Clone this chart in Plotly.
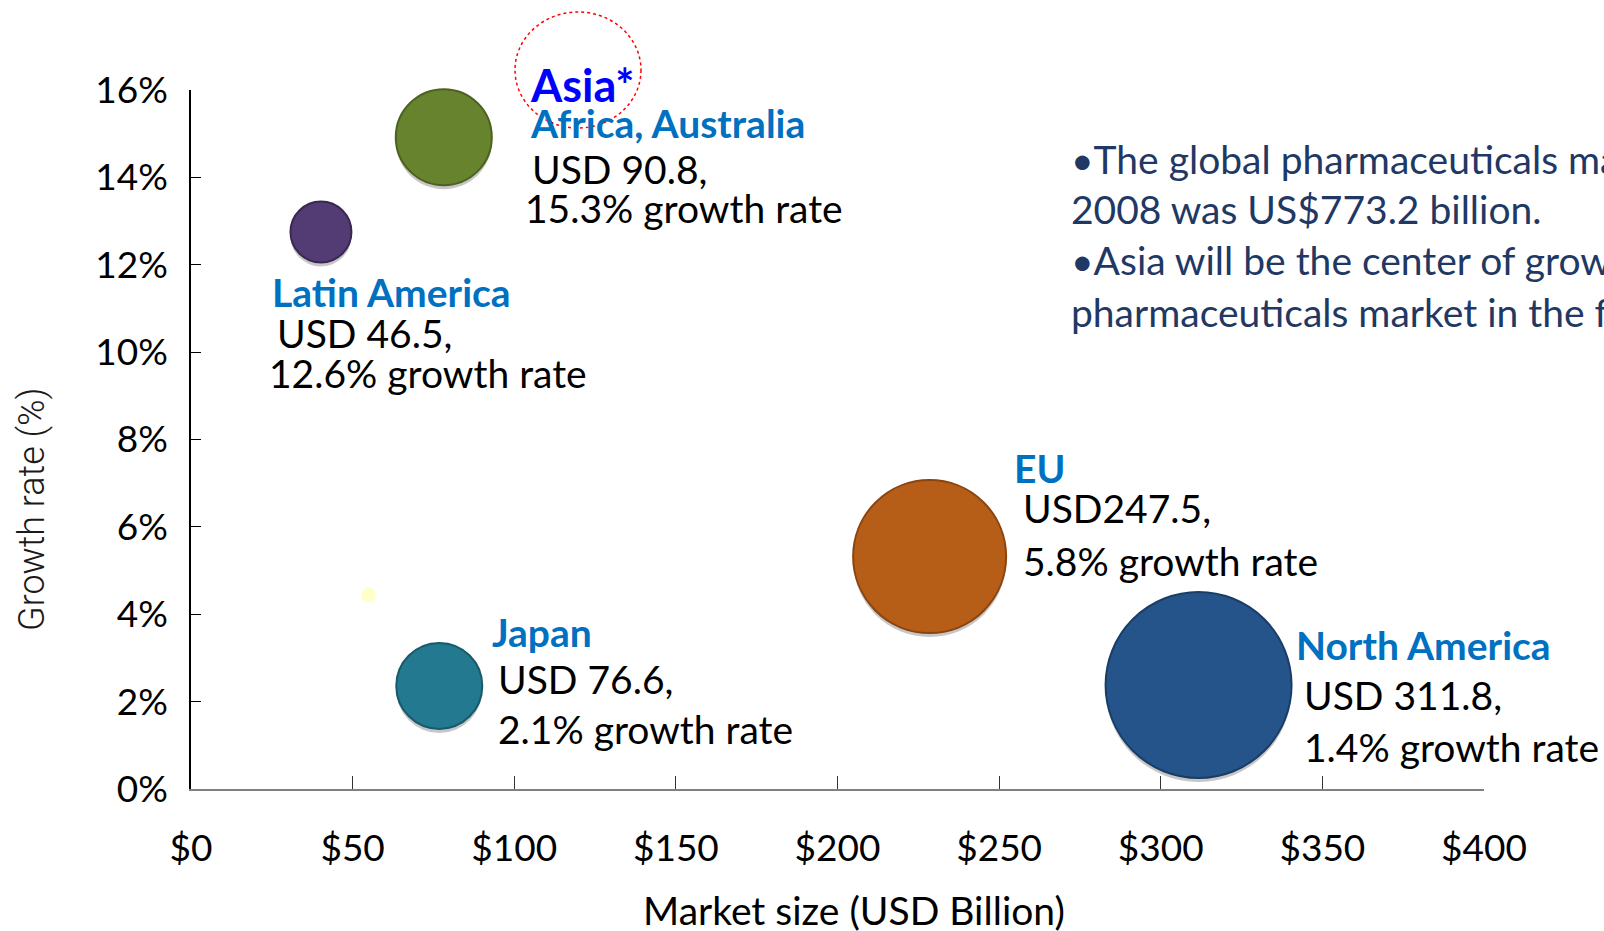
import plotly.graph_objects as go

# ---------------- data ----------------
regions = ["Latin America", "Asia, Africa, Australia", "Japan", "EU", "North America", "(unlabelled)"]
market_size = [40.2, 78.2, 76.8, 228.5, 311.7, 55.0]          # x, USD billion (bubble centre)
growth_pct = [12.75, 14.92, 2.36, 5.32, 2.38, 4.44]            # y, percent (bubble centre)
bubble_value = [33.5, 83.1, 66.7, 211.0, 311.8, 1.5]           # bubble size value (area)
bubble_colors = ["#533B74", "#67832E", "#23798F", "#B65D17", "#25548A", "#FFFFCC"]
edge_colors = ["#3A2853", "#4C6220", "#185A6B", "#8A4410", "#1A3D66", "#FFFFCC"]

label_titles = ["Latin America", "Africa, Australia", "Japan", "EU", "North America"]
value_lines = ["USD 46.5,", "USD 90.8,", "USD 76.6,", "USD247.5,", "USD 311.8,"]
rate_lines = ["12.6% growth rate", "15.3% growth rate", "2.1% growth rate",
              "5.8% growth rate", "1.4% growth rate"]

x_ticks = [0, 50, 100, 150, 200, 250, 300, 350, 400]
y_ticks = [0, 2, 4, 6, 8, 10, 12, 14, 16]

note_lines = ["\u2022The global pharmaceuticals market in",
              "2008 was US$773.2 billion.",
              "\u2022Asia will be the center of growth in the",
              "pharmaceuticals market in the future."]

# ---------------- layout geometry ----------------
W, H = 1604, 931
L, R, T, B = 191, 1484, 90, 789
XMAX, YMAX = 400, 0.16


def px_paper_x(px):
    return (px - L) / (R - L)


def px_paper_y(py):
    return (B - py) / (B - T)


FONT = "Lato, 'Open Sans', sans-serif"
MAX_D = 186
sizeref = 2.0 * max(bubble_value) / MAX_D ** 2

growth = [g / 100 for g in growth_pct]
shadow_dy = 4 * YMAX / (B - T)

fig = go.Figure()

# soft shadow under each bubble
fig.add_trace(go.Scatter(
    x=market_size[:-1], y=[g - shadow_dy for g in growth[:-1]], mode="markers",
    marker=dict(size=bubble_value[:-1], sizemode="area", sizeref=sizeref,
                color="rgba(110,110,110,0.55)", line=dict(width=0)),
    hoverinfo="skip", showlegend=False, cliponaxis=False))

# bubbles
fig.add_trace(go.Scatter(
    x=market_size, y=growth, mode="markers", text=regions,
    marker=dict(size=bubble_value, sizemode="area", sizeref=sizeref,
                color=bubble_colors, opacity=1,
                line=dict(width=2, color=edge_colors)),
    hovertemplate="%{text}<br>$%{x}B, %{y:.1%}<extra></extra>",
    showlegend=False, cliponaxis=False))

# ---------------- annotations ----------------
ann = []
title_pos = [(271, 292), (529, 123), (491, 632), (1013, 467.5), (1295, 645)]
value_pos = [(275.5, 333), (531, 169.5), (496.5, 679), (1021.5, 508), (1302.5, 695)]
rate_pos = [(268, 373), (523.5, 207.5), (496.5, 729), (1021.5, 561), (1302.5, 747)]


def add_text(px, py, text, size, color, family=FONT, **kw):
    d = dict(xref="paper", yref="paper", x=px_paper_x(px), y=px_paper_y(py),
             xanchor="left", yanchor="middle", showarrow=False, align="left",
             borderpad=0, text=text, font=dict(family=family, size=size, color=color))
    d.update(kw)
    ann.append(d)


for i in range(len(label_titles)):
    add_text(*title_pos[i], "<b>%s</b>" % label_titles[i], 39, "#0070C0")
    add_text(*value_pos[i], value_lines[i], 39, "#000000")
    add_text(*rate_pos[i], rate_lines[i], 39, "#000000")

add_text(529, 85, "<b>Asia*</b>", 45, "#0000FF")

note_y = [158.7, 208.7, 260, 311.5]
for line, ny in zip(note_lines, note_y):
    add_text(1070, ny, line, 39, "#1F3864")

# axis titles
ann.append(dict(xref="paper", yref="paper", x=px_paper_x(854), y=px_paper_y(910),
                xanchor="center", yanchor="middle", showarrow=False,
                text="Market size (USD Billion)",
                font=dict(family=FONT, size=39, color="#000000")))
ann.append(dict(xref="paper", yref="paper", x=px_paper_x(32), y=px_paper_y(510),
                xanchor="center", yanchor="middle", showarrow=False, textangle=-90,
                text="Growth rate (%)",
                font=dict(family="Roboto, sans-serif", size=36, color="#1a1a1a", weight=300)))

# red dotted highlight ellipse around "Asia*"
shapes = [dict(type="circle", xref="paper", yref="paper",
               x0=px_paper_x(515), x1=px_paper_x(641), y0=px_paper_y(128), y1=px_paper_y(12),
               line=dict(color="#FF0000", width=1.5, dash="dot"), layer="above")]

fig.update_layout(
    width=W, height=H,
    margin=dict(l=L, r=W - R, t=T, b=H - B, pad=0),
    paper_bgcolor="white", plot_bgcolor="white",
    annotations=ann, shapes=shapes,
    font=dict(family=FONT, color="#000000"),
    xaxis=dict(range=[0, XMAX], tickvals=x_ticks, ticktext=["$%d" % v for v in x_ticks],
               showgrid=False, zeroline=False, showline=True, linecolor="#808080", linewidth=2,
               ticks="inside", ticklen=13, tickwidth=1, tickcolor="#333333",
               tickfont=dict(family=FONT, size=37, color="#000000"),
               ticklabelstandoff=26, fixedrange=True),
    yaxis=dict(range=[0, YMAX], tickvals=[v / 100 for v in y_ticks],
               ticktext=["%d%%" % v for v in y_ticks],
               showgrid=False, zeroline=False, showline=True, linecolor="#000000", linewidth=1.5,
               ticks="inside", ticklen=10, tickwidth=1, tickcolor="#000000",
               tickfont=dict(family=FONT, size=37, color="#000000"),
               ticklabelstandoff=14, fixedrange=True),
    showlegend=False,
)

fig.write_html("out.html", config={"displayModeBar": False},
               post_script="document.body.style.margin='0';")
